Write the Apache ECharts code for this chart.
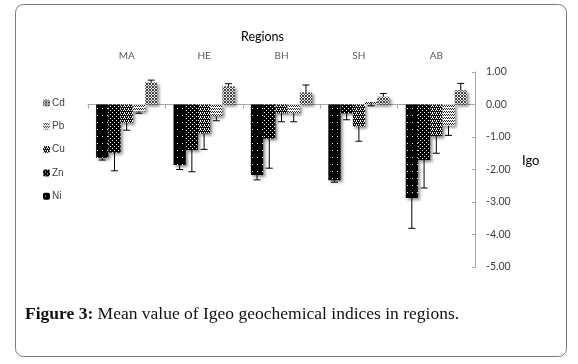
<!DOCTYPE html>
<html>
<head>
<meta charset="utf-8">
<style>
  html, body { margin: 0; padding: 0; background: #fff; }
  #chart { width: 578px; height: 364px; }
</style>
<script src="https://cdn.jsdelivr.net/npm/echarts@6/dist/echarts.min.js"></script>
</head>
<body>
<div id="chart"></div>
<script>
var regions = ['MA', 'HE', 'BH', 'SH', 'AB'];
// bars, left to right inside each region
var metals = ['Ni', 'Zn', 'Cu', 'Pb', 'Cd'];
var legendOrder = ['Cd', 'Pb', 'Cu', 'Zn', 'Ni'];

var ni = [-1.64, -1.86, -2.17, -2.33, -2.88];
var zn = [-1.48, -1.40, -1.05, -0.27, -1.71];
var cu = [-0.57, -0.89, -0.27, -0.68, -0.98];
var pb = [-0.21, -0.36, -0.27, 0.08, -0.65];
var cd = [0.68, 0.56, 0.37, 0.24, 0.44];

// error bar length, signed (added to the mean)
var niErr = [-0.07, -0.14, -0.15, -0.06, -0.93];
var znErr = [-0.56, -0.67, -0.91, -0.20, -0.86];
var cuErr = [-0.22, -0.49, -0.26, -0.45, -0.52];
var pbErr = [-0.06, -0.14, -0.26, -0.12, -0.30];
var cdErr = [0.07, 0.08, 0.23, 0.10, 0.21];

var yTicks = [1, 0, -1, -2, -3, -4, -5];

var values = [ni, zn, cu, pb, cd];
var errors = [niErr, znErr, cuErr, pbErr, cdErr];

// little dithered fills, like the old office patterns
function pattern(w, h, bg, fg, dots) {
  var c = document.createElement('canvas');
  c.width = w; c.height = h;
  var ctx = c.getContext('2d');
  ctx.fillStyle = bg;
  ctx.fillRect(0, 0, w, h);
  ctx.fillStyle = fg;
  dots.forEach(function (d) { ctx.fillRect(d[0], d[1], 1, 1); });
  return { image: c, repeat: 'repeat' };
}
var fills = [
  pattern(5, 7, '#000', '#fff', [[2, 3]]),
  pattern(4, 4, '#000', '#fff', [[0, 0], [2, 2]]),
  pattern(4, 4, '#111', '#fff', [[0, 0], [2, 0], [1, 2], [3, 2], [0, 1]]),
  pattern(4, 3, '#fff', '#222', [[0, 0], [2, 0], [1, 1], [3, 1]]),
  pattern(3, 3, '#e8e8e8', '#444', [[0, 0], [2, 0], [1, 1], [0, 2], [2, 2]])
];

var catGap = 0.21;

var series = metals.map(function (m, i) {
  return {
    name: m,
    type: 'bar',
    barGap: 0,
    barCategoryGap: (catGap * 100) + '%',
    data: values[i],
    itemStyle: {
      color: fills[i],
      shadowBlur: 3,
      shadowColor: 'rgba(0,0,0,0.45)',
      shadowOffsetX: 2,
      shadowOffsetY: 2
    },
    emphasis: { disabled: true }
  };
});

var errData = [];
metals.forEach(function (m, s) {
  regions.forEach(function (r, c) {
    errData.push([c, s, values[s][c], values[s][c] + errors[s][c]]);
  });
});

series.push({
  type: 'custom',
  name: 'err',
  data: errData,
  z: 5,
  silent: true,
  renderItem: function (params, api) {
    var c = api.value(0), s = api.value(1);
    var band = api.size([1, 0])[0];
    var bw = band * (1 - catGap) / metals.length;
    var x = api.coord([c, 0])[0] - bw * metals.length / 2 + bw * (s + 0.5);
    var y0 = api.coord([c, api.value(2)])[1];
    var y1 = api.coord([c, api.value(3)])[1];
    var st = { stroke: '#000', lineWidth: 1 };
    return {
      type: 'group',
      children: [
        { type: 'line', shape: { x1: x, y1: y0, x2: x, y2: y1 }, style: st },
        { type: 'line', shape: { x1: x - 3.5, y1: y1, x2: x + 3.5, y2: y1 }, style: st }
      ]
    };
  }
});

var chart = echarts.init(document.getElementById('chart'));
chart.setOption({
  animation: false,
  textStyle: { fontFamily: 'Lato' },
  grid: { left: 88, right: 103, top: 72, bottom: 97 },
  legend: {
    data: legendOrder,
    orient: 'vertical',
    left: 38,
    top: 93,
    itemWidth: 7,
    itemHeight: 7,
    itemGap: 13.3,
    textStyle: { fontSize: 10, color: '#404040', fontFamily: 'Liberation Sans', padding: [0, 0, 0, -3] }
  },
  xAxis: [{
    type: 'category',
    data: regions,
    position: 'top',
    axisLine: { show: false, onZero: false },
    axisTick: { show: false },
    axisLabel: { margin: 11, fontSize: 10, color: '#595959' }
  }, {
    type: 'category',
    data: regions,
    position: 'bottom',
    axisLine: { onZero: true, lineStyle: { color: '#a6a6a6' } },
    axisTick: { show: true, length: 4, lineStyle: { color: '#a6a6a6' } },
    axisLabel: { show: false }
  }],
  yAxis: {
    type: 'value',
    position: 'right',
    min: yTicks[yTicks.length - 1],
    max: yTicks[0],
    interval: 1,
    splitLine: { show: false },
    axisLine: { show: true, lineStyle: { color: '#a6a6a6' } },
    axisTick: { show: true, inside: true, length: 3, lineStyle: { color: '#a6a6a6' } },
    axisLabel: {
      margin: 11,
      fontSize: 10.5,
      color: '#404040',
      formatter: function (v) { return v.toFixed(2); }
    }
  },
  graphic: [
    {
      type: 'rect',
      shape: { x: 15.5, y: 4.5, width: 551, height: 352, r: 8 },
      style: { fill: 'none', stroke: '#7a7a7a', lineWidth: 1 },
      silent: true
    },
    {
      type: 'text', left: 241, top: 30,
      style: { text: 'Regions', font: '12.5px Lato', fill: '#000' }
    },
    {
      type: 'text', left: 522, top: 154,
      style: { text: 'Igo', font: '13px Lato', fill: '#000' }
    },
    {
      type: 'text', left: 25, top: 305,
      style: {
        text: '{b|Figure 3:}{n| Mean value of Igeo geochemical indices in regions.}',
        fill: '#111',
        rich: {
          b: { fontWeight: 'bold', fontSize: 17.5, fontFamily: 'Liberation Serif', fill: '#111' },
          n: { fontSize: 17.5, fontFamily: 'Liberation Serif', fill: '#111' }
        }
      }
    }
  ],
  series: series
});
</script>
</body>
</html>
